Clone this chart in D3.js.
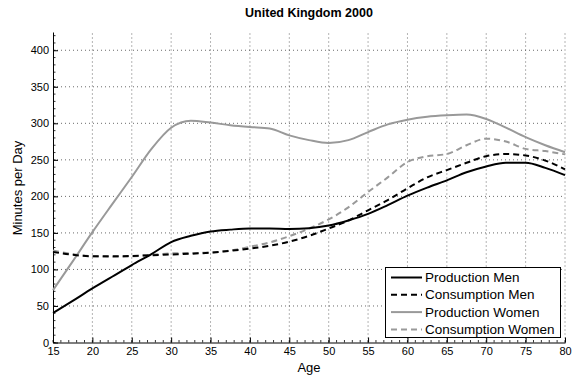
<!DOCTYPE html>
<html><head><meta charset="utf-8">
<script src="https://cdn.jsdelivr.net/npm/d3@7"></script>
<style>body{margin:0;background:#fff}svg{display:block}text{font-family:"Liberation Sans",Arial,Helvetica,sans-serif}</style>
</head><body><svg id="c" width="572" height="379"></svg>
<script>
const ages = [15,17.5,20,22.5,25,27.5,30,32.5,35,37.5,40,42.5,45,47.5,50,52.5,55,57.5,60,62.5,65,67.5,70,72.5,75,77.5,80];
const productionMen = [40.5,57,74,90,106,121,137.5,146,152,154.5,156,156,155.5,156.5,160,167,176,188,201,212,222,233,241,246,246,239,229];
const consumptionMen = [124,120,118,118,118.5,119.5,120.5,121.5,123,125.5,128.5,132.5,138,146,156,167,181,195,211,226,236,246,255,258,256,249,237];
const productionWomen = [71.7,111,151,189,226.5,265,294,303.5,301,297.5,295,293,283.5,277,273,277,288,298.5,305,309,311,312,306,294,281,270,260.5];
const consumptionWomen = [126,121,118,117.5,118,120,122,122.5,123,126,131,137,145.5,156,168.5,185,206,226,247,255,258,270,279,275,265,262,257.5];
const seriesNames = ["Production Men","Consumption Men","Production Women","Consumption Women"];
const xTicks = d3.range(15,81,5);
const yTicks = d3.range(0,401,50);

const svg = d3.select("#c");
const L=53,R=565,T=32,B=342.5;
const x = d3.scaleLinear().domain([15,80]).range([L,R]);
const y = d3.scaleLinear().domain([0,425]).range([B,T]);

// grid
const g = svg.append("g");
g.selectAll(".vg").data(xTicks.slice(1)).enter().append("line")
  .attr("x1",d=>x(d)).attr("x2",d=>x(d)).attr("y1",B).attr("y2",T)
  .attr("stroke","#444").attr("stroke-width",0.8).attr("stroke-dasharray","1,3");
g.selectAll(".hg").data(yTicks.slice(1)).enter().append("line")
  .attr("x1",L).attr("x2",R).attr("y1",d=>y(d)).attr("y2",d=>y(d))
  .attr("stroke","#444").attr("stroke-width",0.8).attr("stroke-dasharray","1,3");

// axes
const xAxis = d3.axisBottom(x).tickValues(xTicks).tickSizeInner(-5).tickSizeOuter(0).tickPadding(5);
const ax = svg.append("g").attr("transform",`translate(0,${B})`).call(xAxis);
const yAxis = d3.axisLeft(y).tickValues(yTicks).tickSizeInner(-5).tickSizeOuter(0).tickPadding(4);
const ay = svg.append("g").attr("transform",`translate(${L},0)`).call(yAxis);
[ax,ay].forEach(a=>{
  a.select(".domain").attr("stroke","#000").attr("stroke-width",1);
  a.selectAll(".tick line").attr("stroke","#000");
  a.selectAll(".tick text").attr("font-size",11).attr("fill","#000").style("font-family","Liberation Sans, Arial, sans-serif");
});
// minor ticks
svg.append("g").selectAll("line").data(d3.range(15,81,1)).enter().append("line")
  .attr("x1",d=>x(d)).attr("x2",d=>x(d)).attr("y1",B).attr("y2",B-2.5).attr("stroke","#000").attr("stroke-width",0.8);
svg.append("g").selectAll("line").data(d3.range(0,421,10)).enter().append("line")
  .attr("x1",L).attr("x2",L+2.5).attr("y1",d=>y(d)).attr("y2",d=>y(d)).attr("stroke","#000").attr("stroke-width",0.8);

// lines
const styles = [
  {data:productionMen,color:"#000",dash:null},
  {data:consumptionMen,color:"#000",dash:"6,4"},
  {data:productionWomen,color:"#999",dash:null},
  {data:consumptionWomen,color:"#999",dash:"6,4"}
];
const line = d3.line().x((d,i)=>x(ages[i])).y(d=>y(d)).curve(d3.curveMonotoneX);
[3,2,1,0].forEach(k=>{
  const s=styles[k];
  svg.append("path").attr("d",line(s.data)).attr("fill","none")
    .attr("stroke",s.color).attr("stroke-width",2)
    .attr("stroke-dasharray",s.dash);
});

// title & labels
svg.append("text").attr("x",309).attr("y",17).attr("text-anchor","middle")
  .attr("font-size",12.5).attr("font-weight","bold").text("United Kingdom 2000");
svg.append("text").attr("x",309).attr("y",372).attr("text-anchor","middle")
  .attr("font-size",13).text("Age");
svg.append("text").attr("transform","translate(22,188) rotate(-90)").attr("text-anchor","middle")
  .attr("font-size",13).text("Minutes per Day");

// legend
const lg = svg.append("g");
lg.append("rect").attr("x",385.5).attr("y",267.5).attr("width",175).attr("height",70)
  .attr("fill","#fff").attr("stroke","#000").attr("stroke-width",1);
seriesNames.forEach((n,i)=>{
  const yy = 277.5 + i*17.3;
  lg.append("line").attr("x1",391).attr("x2",422).attr("y1",yy).attr("y2",yy)
    .attr("stroke",styles[i].color).attr("stroke-width",2).attr("stroke-dasharray",styles[i].dash);
  lg.append("text").attr("x",425).attr("y",yy+4.5).attr("font-size",13.5).text(n);
});
</script></body></html>
